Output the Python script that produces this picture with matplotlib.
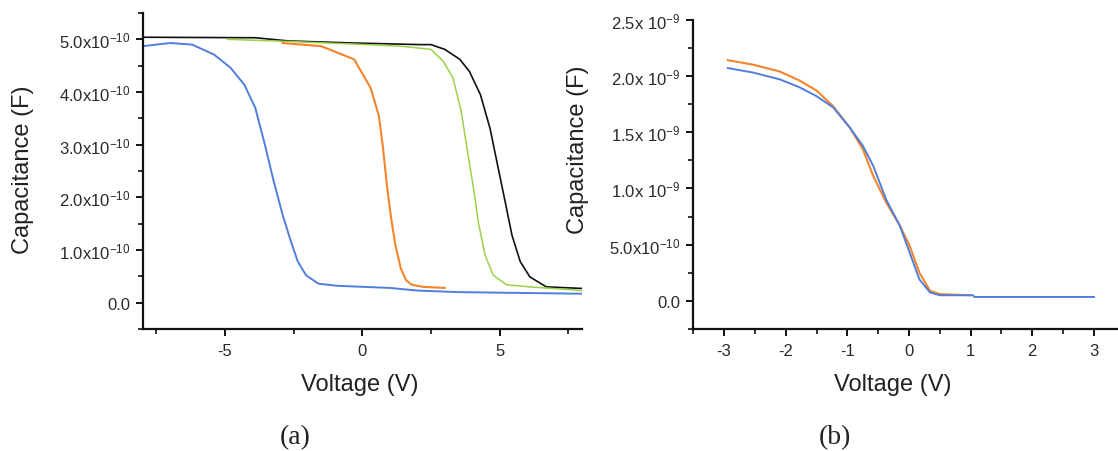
import matplotlib
matplotlib.use("Agg")
import matplotlib.pyplot as plt
from matplotlib.ticker import MultipleLocator

plt.rcParams['font.family'] = ['Liberation Sans', 'DejaVu Sans']
plt.rcParams['mathtext.fontset'] = 'custom'
plt.rcParams['mathtext.rm'] = 'Liberation Sans'
plt.rcParams['mathtext.it'] = 'Liberation Sans:italic'
plt.rcParams['mathtext.bf'] = 'Liberation Sans:bold'

# ---------------- Panel (a) data (C in units of 1e-10 F) ----------------
a_black_v = [-8.0, -3.9, -2.7, -0.3, 2.1, 2.5, 3.0, 3.55, 3.9, 4.3, 4.65, 4.95, 5.2, 5.45, 5.75, 6.1, 6.7, 8.0]
a_black_c = [5.04, 5.03, 4.97, 4.93, 4.90, 4.90, 4.81, 4.62, 4.39, 3.95, 3.31, 2.55, 1.92, 1.28, 0.78, 0.49, 0.30, 0.27]

a_green_v = [-4.9, -2.7, -0.3, 1.4, 2.5, 2.95, 3.3, 3.6, 3.85, 4.05, 4.22, 4.47, 4.77, 5.25, 6.1, 8.0]
a_green_c = [5.00, 4.96, 4.91, 4.87, 4.81, 4.58, 4.27, 3.63, 2.81, 2.17, 1.54, 0.90, 0.52, 0.34, 0.30, 0.23]

a_orange_v = [-2.9, -1.5, -0.3, 0.3, 0.6, 0.75, 0.9, 1.05, 1.2, 1.4, 1.6, 1.8, 2.2, 3.0]
a_orange_c = [4.93, 4.87, 4.62, 4.08, 3.55, 2.95, 2.2, 1.6, 1.1, 0.65, 0.42, 0.34, 0.30, 0.28]

a_blue_v = [-8.0, -7.0, -6.2, -5.4, -4.8, -4.3, -3.9, -3.55, -3.25, -2.9, -2.6, -2.35, -2.05, -1.6, -0.9, 1.0, 2.0, 3.5, 8.0]
a_blue_c = [4.87, 4.93, 4.90, 4.71, 4.46, 4.14, 3.70, 3.0, 2.35, 1.66, 1.16, 0.78, 0.52, 0.36, 0.32, 0.28, 0.23, 0.20, 0.17]

a_yticks = [0.0, 1e-10, 2e-10, 3e-10, 4e-10, 5e-10]
a_ylabels = ['0.0', r'1.0x10$^{-10}$', r'2.0x10$^{-10}$', r'3.0x10$^{-10}$',
             r'4.0x10$^{-10}$', r'5.0x10$^{-10}$']
a_xticks = [-5, 0, 5]

# ---------------- Panel (b) data (C in units of 1e-9 F) ----------------
b_orange_v = [-2.94, -2.53, -2.1, -1.78, -1.5, -1.23, -0.96, -0.75, -0.58, -0.37, -0.15, 0.01, 0.17, 0.34, 0.5, 1.0]
b_orange_c = [2.14, 2.10, 2.04, 1.96, 1.87, 1.73, 1.54, 1.35, 1.11, 0.875, 0.67, 0.49, 0.25, 0.09, 0.06, 0.05]

b_blue_v = [-2.94, -2.53, -2.1, -1.78, -1.5, -1.23, -0.96, -0.75, -0.58, -0.37, -0.15, 0.01, 0.17, 0.34, 0.5, 1.04, 1.06, 3.0]
b_blue_c = [2.07, 2.03, 1.97, 1.90, 1.82, 1.72, 1.54, 1.38, 1.20, 0.90, 0.67, 0.43, 0.19, 0.075, 0.05, 0.05, 0.035, 0.035]

b_yticks = [0.0, 0.5e-9, 1.0e-9, 1.5e-9, 2.0e-9, 2.5e-9]
b_ylabels = ['0.0', r'5.0x10$^{-10}$', r'1.0x 10$^{-9}$', r'1.5x 10$^{-9}$',
             r'2.0x 10$^{-9}$', r'2.5x 10$^{-9}$']
b_xticks = [-3, -2, -1, 0, 1, 2, 3]

BLACK = '#111111'
GREEN = '#9ad24a'
ORANGE = '#f5832a'
BLUE = '#4f7fdc'

W, H = 1118, 452
fig = plt.figure(figsize=(W / 100, H / 100), dpi=100)

def style(ax):
    for s in ('top', 'right'):
        ax.spines[s].set_visible(False)
    for s in ('left', 'bottom'):
        ax.spines[s].set_linewidth(1.6)
        ax.spines[s].set_color('#111111')
    ax.tick_params(which='major', direction='out', length=5, width=1.4, colors='#111111',
                   labelcolor='#2a2a2a')
    ax.tick_params(which='minor', direction='out', length=3.5, width=1.2, colors='#111111')
    ax.tick_params(axis='y', pad=4, labelsize=12)
    ax.tick_params(axis='x', pad=5, labelsize=12)

# Panel (a)
ax1 = fig.add_axes([142.7 / W, 1 - 330 / H, (582 - 142.7) / W, (330 - 14) / H])
ax1.plot(a_black_v, [c * 1e-10 for c in a_black_c], color=BLACK, lw=1.2)
ax1.plot(a_green_v, [c * 1e-10 for c in a_green_c], color=GREEN, lw=1.1)
ax1.plot(a_orange_v, [c * 1e-10 for c in a_orange_c], color=ORANGE, lw=1.5)
ax1.plot(a_blue_v, [c * 1e-10 for c in a_blue_c], color=BLUE, lw=1.4)
ax1.set_xlim(-8, 8)
ax1.set_ylim(-0.5e-10, 5.5e-10)
ax1.set_yticks(a_yticks, a_ylabels)
ax1.set_xticks(a_xticks, [str(t) for t in a_xticks])
ax1.xaxis.set_minor_locator(MultipleLocator(2.5))
ax1.yaxis.set_minor_locator(MultipleLocator(0.5e-10))
style(ax1)
ax1.set_xlabel('Voltage (V)', fontsize=17, color='#222222')
ax1.xaxis.label.set_va('center')
ax1.xaxis.set_label_coords(0.495, -0.174)
ax1.set_ylabel('Capacitance (F)', fontsize=17, color='#222222')
ax1.yaxis.label.set_va('center')
ax1.yaxis.set_label_coords(-0.2725, 0.506)

# Panel (b)
ax2 = fig.add_axes([693.3 / W, 1 - 330 / H, (1116.7 - 693.3) / W, (330 - 20.7) / H])
ax2.plot(b_orange_v, [c * 1e-9 for c in b_orange_c], color=ORANGE, lw=1.5)
ax2.plot(b_blue_v, [c * 1e-9 for c in b_blue_c], color=BLUE, lw=1.4)
ax2.set_xlim(-3.5, 3.37)
ax2.set_ylim(-0.25e-9, 2.5e-9)
ax2.set_yticks(b_yticks, b_ylabels)
ax2.set_xticks(b_xticks, [str(t) for t in b_xticks])
ax2.xaxis.set_minor_locator(MultipleLocator(0.5))
ax2.yaxis.set_minor_locator(MultipleLocator(0.25e-9))
style(ax2)
ax2.set_xlabel('Voltage (V)', fontsize=17, color='#222222')
ax2.xaxis.label.set_va('center')
ax2.xaxis.set_label_coords((893 - 693.3) / 423.4, (452 - 385 - 122) / 309.3)
ax2.set_ylabel('Capacitance (F)', fontsize=17, color='#222222')
ax2.yaxis.label.set_va('center')
ax2.yaxis.set_label_coords((578 - 693.3) / 423.4, 0.582)

fig.text(295 / W, 1 - 438 / H, '(a)', ha='center', va='center', fontsize=20,
         family=['Liberation Serif', 'DejaVu Serif'], color='#222222')
fig.text(835 / W, 1 - 438 / H, '(b)', ha='center', va='center', fontsize=20,
         family=['Liberation Serif', 'DejaVu Serif'], color='#222222')

fig.savefig('out.png', dpi=100, facecolor='white')
